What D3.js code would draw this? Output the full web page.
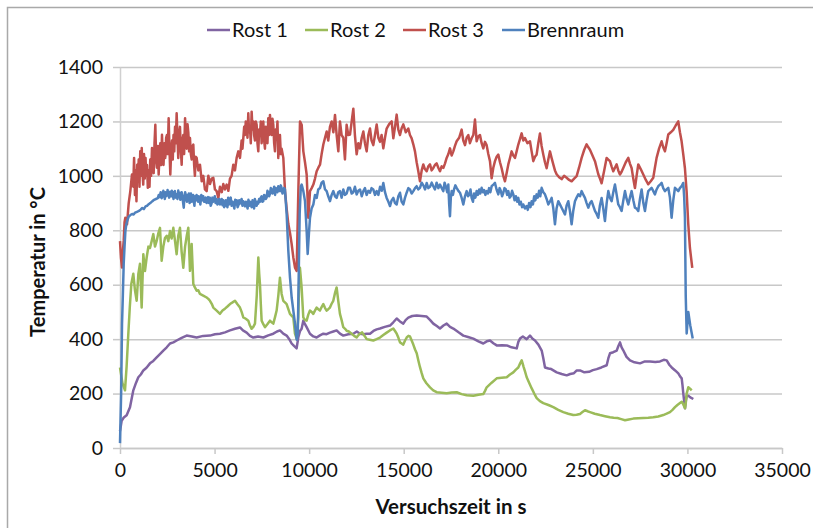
<!DOCTYPE html>
<html><head><meta charset="utf-8">
<script src="https://cdn.jsdelivr.net/npm/d3@7"></script>
<style>
html,body{margin:0;padding:0;background:#fff;}
svg{display:block;font-family:Lato,"Open Sans",sans-serif;}
</style></head><body>
<svg id="chart" width="813" height="528"></svg>
<script>
// Series names / colours (legend order = draw order)
const seriesNames = ["Rost 1", "Rost 2", "Rost 3", "Brennraum"];
const seriesColors = ["#8064A2", "#9BBB59", "#C0504D", "#4F81BD"];

// Axis ticks
const yTicks = [0, 200, 400, 600, 800, 1000, 1200, 1400];
const xTicks = [0, 5000, 10000, 15000, 20000, 25000, 30000, 35000];
const xTitle = "Versuchszeit in s";
const yTitle = "Temperatur in °C";

// Measurements: [time in s, temperature in °C]
const rost1 = [[0,62],[88,100],[200,112],[352,120],[528,150],[704,212],[850,240],[969,260],[1100,270],[1233,285],[1400,295],[1585,311],[1760,320],[1938,333],[2110,345],[2290,358],[2470,370],[2643,384],[2820,388],[2995,395],[3260,405],[3524,413],[3800,410],[4052,406],[4400,412],[4757,413],[5020,418],[5286,420],[5550,425],[5814,432],[6080,438],[6343,443],[6500,432],[6695,424],[6870,412],[7048,406],[7300,410],[7576,406],[7840,414],[8105,420],[8300,428],[8457,432],[8633,420],[8810,413],[8950,400],[9074,384],[9200,375],[9338,366],[9426,406],[9520,430],[9602,438],[9691,468],[9780,455],[9867,444],[10043,420],[10220,410],[10395,406],[10570,414],[10748,420],[10920,418],[11100,424],[11280,428],[11453,432],[11630,420],[11805,413],[12070,418],[12334,420],[12520,428],[12689,420],[12865,418],[13042,420],[13218,420],[13400,430],[13570,436],[13746,439],[14000,445],[14275,450],[14450,462],[14629,476],[14800,465],[14978,457],[15100,470],[15243,479],[15450,485],[15687,487],[15950,485],[16215,483],[16400,470],[16564,457],[16750,448],[16918,439],[17100,450],[17273,457],[17450,445],[17622,439],[17900,425],[18150,413],[18400,408],[18679,402],[18950,392],[19208,384],[19390,392],[19562,395],[19740,385],[19916,377],[20200,378],[20445,377],[20700,370],[20974,366],[21060,390],[21148,402],[21300,410],[21500,400],[21677,413],[21800,402],[21941,395],[22120,380],[22295,358],[22380,330],[22470,296],[22650,292],[22800,290],[23089,278],[23350,272],[23617,267],[23800,272],[24000,275],[24150,285],[24320,285],[24550,278],[24800,280],[25000,286],[25203,290],[25450,296],[25732,304],[25820,330],[25906,348],[26080,352],[26260,358],[26350,375],[26435,388],[26520,370],[26600,360],[26780,335],[26964,322],[27200,315],[27492,311],[27750,318],[28021,318],[28300,316],[28550,318],[28750,324],[28904,322],[29050,305],[29168,296],[29350,285],[29517,274],[29620,262],[29697,256],[29740,230],[29781,201],[29830,170],[29872,146],[29920,175],[29961,190],[30050,192],[30136,187],[30230,183],[30311,180]];

const rost2 = [[0,296],[130,238],[264,212],[350,300],[440,420],[520,520],[600,604],[704,640],[790,580],[881,541],[970,640],[1057,677],[1145,516],[1233,712],[1320,650],[1410,700],[1500,740],[1585,735],[1675,760],[1762,786],[1850,740],[1938,761],[2030,790],[2114,809],[2202,688],[2290,740],[2378,772],[2470,780],[2555,760],[2643,797],[2730,770],[2819,809],[2910,760],[2995,712],[3080,780],[3171,809],[3260,720],[3347,662],[3440,740],[3530,780],[3612,809],[3700,651],[3788,750],[3876,603],[3960,590],[4052,578],[4140,580],[4228,566],[4400,560],[4581,553],[4670,548],[4757,541],[4850,530],[4933,516],[5110,505],[5286,493],[5420,505],[5550,512],[5680,520],[5814,529],[5950,535],[6079,541],[6210,528],[6343,516],[6430,500],[6519,480],[6650,475],[6783,468],[6870,450],[6960,438],[7048,445],[7136,457],[7230,560],[7313,700],[7360,640],[7400,602],[7444,530],[7488,468],[7576,455],[7664,444],[7800,456],[7929,468],[8017,462],[8105,457],[8193,480],[8281,505],[8370,560],[8457,626],[8545,566],[8633,541],[8720,535],[8810,529],[8900,510],[8986,493],[9074,486],[9162,480],[9250,420],[9338,402],[9426,480],[9470,600],[9514,662],[9602,590],[9691,480],[9780,470],[9867,468],[9955,490],[10043,505],[10131,500],[10219,493],[10307,505],[10395,516],[10484,510],[10572,505],[10660,518],[10748,529],[10836,515],[10924,505],[11012,510],[11100,516],[11188,530],[11276,541],[11370,570],[11453,590],[11541,540],[11629,493],[11717,470],[11805,444],[11900,438],[11981,431],[12100,428],[12245,420],[12380,412],[12510,406],[12600,414],[12686,420],[12800,425],[12950,410],[13042,400],[13200,398],[13394,395],[13570,400],[13746,406],[13920,415],[14100,424],[14270,432],[14449,439],[14540,430],[14629,420],[14720,405],[14804,388],[14890,384],[14978,380],[15070,395],[15158,406],[15250,412],[15332,410],[15420,395],[15507,380],[15600,362],[15687,348],[15780,320],[15861,297],[15950,275],[16035,256],[16200,238],[16390,223],[16560,212],[16744,205],[17000,203],[17273,201],[17540,204],[17802,205],[18060,198],[18330,194],[18500,193],[18679,192],[18950,196],[19208,198],[19300,210],[19387,223],[19650,240],[19916,256],[20180,258],[20445,260],[20620,270],[20794,278],[20930,288],[21058,296],[21150,310],[21238,322],[21290,310],[21330,300],[21420,280],[21502,260],[21630,240],[21767,219],[21900,200],[22031,183],[22200,172],[22380,165],[22650,158],[22909,150],[23170,140],[23437,132],[23700,126],[23966,121],[24140,122],[24320,125],[24450,132],[24585,139],[24720,135],[24849,132],[25100,126],[25378,121],[25640,117],[25906,113],[26100,111],[26300,110],[26500,106],[26699,102],[26900,105],[27138,108],[27400,109],[27667,110],[27930,111],[28195,113],[28460,116],[28724,121],[28900,126],[29078,132],[29210,140],[29342,150],[29470,158],[29606,165],[29700,170],[29781,160],[29830,152],[29872,146],[29920,170],[29960,200],[30046,223],[30140,218],[30226,212]];

const rost3 = [[0,760],[50,700],[106,663],[150,720],[194,761],[240,830],[282,846],[330,835],[370,822],[460,900],[546,944],[634,1005],[700,960],[745,1066],[790,930],[830,1020],[870,907],[910,1041],[950,980],[990,1060],[1030,960],[1070,1090],[1110,1000],[1150,1102],[1190,1010],[1230,968],[1270,1080],[1310,990],[1350,1066],[1390,1000],[1430,1040],[1470,956],[1515,1020],[1560,960],[1600,1060],[1645,1000],[1691,1102],[1735,1030],[1780,1010],[1825,1120],[1868,1188],[1910,1060],[1950,1030],[2000,1110],[2044,1005],[2090,1080],[2130,1120],[2175,1040],[2220,1151],[2260,1070],[2300,1040],[2350,1120],[2396,1066],[2440,1140],[2480,1150],[2525,1080],[2572,1212],[2615,1100],[2660,1005],[2705,1090],[2750,1130],[2790,1060],[2830,1150],[2870,1090],[2910,1180],[2950,1120],[2995,1230],[3040,1140],[3080,1066],[3125,1150],[3171,1180],[3215,1100],[3260,1041],[3300,1130],[3347,1150],[3390,1080],[3440,1212],[3480,1140],[3524,1100],[3570,1190],[3612,1160],[3655,1090],[3700,1139],[3745,1080],[3790,1060],[3835,1110],[3876,1115],[3920,1040],[3960,1000],[4005,1070],[4052,1066],[4140,1020],[4228,1041],[4320,980],[4405,1000],[4490,950],[4581,944],[4670,1000],[4757,970],[4845,990],[4933,993],[5020,950],[5109,944],[5200,919],[5286,960],[5380,940],[5462,970],[5550,950],[5638,968],[5730,945],[5814,990],[5900,1000],[5990,1041],[6079,1020],[6167,1066],[6255,1090],[6343,1066],[6430,1130],[6475,1100],[6519,1139],[6565,1180],[6610,1150],[6650,1200],[6695,1188],[6740,1140],[6783,1230],[6825,1160],[6871,1180],[6915,1120],[6960,1236],[7005,1170],[7048,1200],[7090,1150],[7136,1130],[7180,1200],[7224,1188],[7268,1120],[7312,1090],[7356,1170],[7400,1150],[7444,1200],[7488,1120],[7532,1160],[7576,1200],[7620,1130],[7664,1100],[7708,1180],[7752,1163],[7796,1120],[7840,1212],[7884,1150],[7929,1224],[7973,1170],[8017,1150],[8060,1210],[8105,1188],[8150,1120],[8193,1090],[8237,1170],[8281,1139],[8325,1200],[8369,1066],[8413,1130],[8457,1150],[8500,1080],[8545,1100],[8635,1066],[8724,944],[8810,880],[8900,823],[8988,790],[9076,749],[9164,700],[9252,663],[9340,651],[9429,944],[9517,1200],[9605,1188],[9693,1090],[9781,1050],[9869,1005],[9957,846],[10045,944],[10133,955],[10222,968],[10310,990],[10398,1017],[10486,1030],[10574,1041],[10660,1080],[10750,1115],[10840,1140],[10926,1163],[11010,1130],[11100,1180],[11191,1200],[11280,1160],[11367,1224],[11455,1150],[11543,1090],[11629,1200],[11717,1150],[11805,1140],[11893,1060],[11981,1188],[12069,1150],[12160,1152],[12250,1200],[12336,1247],[12420,1150],[12512,1079],[12600,1120],[12689,1101],[12780,1140],[12865,1163],[12950,1120],[13041,1090],[13130,1150],[13217,1174],[13300,1130],[13393,1113],[13480,1150],[13570,1189],[13660,1140],[13746,1125],[13830,1150],[13922,1101],[14010,1140],[14098,1174],[14230,1190],[14363,1200],[14451,1138],[14540,1180],[14627,1225],[14715,1170],[14803,1150],[14890,1175],[14979,1189],[15110,1160],[15244,1174],[15330,1150],[15420,1138],[15510,1115],[15596,1090],[15684,1050],[15772,1017],[15860,980],[15950,1020],[16036,1042],[16120,1025],[16213,1017],[16300,1035],[16389,1042],[16477,1020],[16565,1029],[16650,1040],[16741,1046],[16830,1030],[16917,1017],[17005,1035],[17094,1029],[17180,1045],[17270,1066],[17360,1080],[17446,1101],[17534,1075],[17622,1090],[17710,1110],[17798,1127],[17930,1140],[18063,1170],[18150,1130],[18239,1113],[18327,1140],[18415,1150],[18500,1120],[18591,1138],[18680,1150],[18768,1207],[18856,1127],[18944,1145],[19032,1150],[19120,1120],[19208,1101],[19296,1125],[19384,1113],[19472,1080],[19560,1054],[19649,991],[19737,1030],[19825,1054],[19913,1070],[20001,1078],[20090,1050],[20177,1028],[20265,1000],[20353,980],[20440,1010],[20530,1042],[20618,1065],[20706,1090],[20794,1075],[20882,1066],[20970,1090],[21058,1115],[21146,1135],[21234,1156],[21322,1130],[21411,1139],[21540,1120],[21675,1127],[21763,1090],[21851,1054],[21940,1070],[22027,1078],[22115,1120],[22203,1156],[22290,1110],[22380,1078],[22468,1050],[22556,1028],[22644,1060],[22732,1090],[22820,1065],[22908,1042],[22996,1020],[23084,1006],[23216,995],[23349,988],[23480,1000],[23613,993],[23745,985],[23877,980],[24010,990],[24142,999],[24270,1030],[24406,1066],[24540,1095],[24670,1116],[24760,1105],[24847,1096],[24980,1075],[25111,1054],[25200,1030],[25287,1006],[25375,990],[25463,973],[25600,1020],[25727,1066],[25815,1060],[25904,1054],[25990,1035],[26080,1017],[26168,1030],[26256,1042],[26344,1020],[26432,1005],[26520,1015],[26608,1029],[26740,1050],[26873,1066],[26960,1045],[27049,1029],[27137,990],[27225,955],[27313,1000],[27401,1042],[27530,1025],[27666,1005],[27800,985],[27930,969],[28060,980],[28194,993],[28280,1030],[28370,1066],[28500,1100],[28635,1127],[28720,1105],[28811,1090],[28900,1120],[28987,1152],[29120,1160],[29251,1169],[29380,1185],[29516,1200],[29604,1160],[29692,1127],[29780,1079],[29868,1028],[29956,944],[30044,823],[30132,735],[30256,662]];

const brennraum = [[0,18],[60,200],[107,457],[150,560],[196,677],[240,740],[285,797],[330,820],[375,834],[460,850],[550,856],[642,860],[720,858],[800,865],[900,868],[1000,871],[1090,876],[1177,882],[1260,878],[1350,888],[1430,890],[1500,895],[1600,900],[1713,907],[1800,912],[1900,915],[2000,918],[2050,930],[2100,922],[2150,940],[2200,918],[2248,925],[2290,945],[2330,935],[2370,915],[2400,940],[2440,925],[2480,928],[2515,948],[2550,935],[2600,920],[2650,942],[2700,925],[2740,945],[2783,933],[2830,915],[2860,940],[2900,944],[2950,920],[3000,932],[3040,915],[3080,946],[3115,925],[3150,938],[3190,912],[3230,928],[3260,940],[3290,930],[3330,905],[3370,883],[3395,910],[3420,925],[3445,940],[3470,932],[3505,915],[3540,905],[3570,930],[3600,920],[3640,935],[3680,900],[3715,920],[3750,935],[3790,905],[3830,912],[3865,930],[3900,907],[3935,890],[3970,925],[4010,910],[4050,930],[4090,915],[4130,905],[4165,925],[4200,915],[4250,895],[4300,930],[4350,910],[4400,925],[4445,905],[4490,905],[4535,920],[4580,900],[4620,915],[4660,922],[4705,900],[4750,920],[4795,890],[4840,898],[4885,920],[4930,905],[4970,915],[5010,925],[5055,900],[5100,915],[5150,895],[5200,900],[5245,915],[5290,895],[5335,905],[5380,915],[5420,892],[5460,910],[5505,885],[5550,890],[5595,910],[5640,900],[5680,885],[5720,920],[5765,895],[5814,907],[5855,920],[5900,890],[5950,905],[6000,895],[6045,880],[6090,912],[6130,895],[6170,910],[6215,885],[6260,892],[6300,910],[6343,898],[6385,905],[6430,915],[6475,890],[6519,907],[6565,900],[6610,888],[6655,905],[6700,895],[6745,880],[6790,912],[6830,890],[6871,905],[6915,895],[6960,885],[7005,910],[7048,900],[7090,880],[7130,915],[7180,900],[7224,890],[7265,905],[7310,898],[7355,915],[7400,905],[7445,920],[7490,925],[7530,905],[7576,907],[7620,930],[7660,928],[7705,915],[7752,920],[7795,945],[7840,940],[7885,925],[7929,935],[7973,955],[8017,950],[8060,935],[8105,944],[8150,960],[8200,930],[8240,955],[8281,950],[8325,940],[8369,962],[8413,945],[8457,944],[8500,965],[8545,956],[8590,935],[8633,940],[8680,955],[8721,950],[8812,858],[8900,724],[8988,626],[9076,553],[9164,505],[9252,457],[9340,398],[9400,420],[9450,640],[9500,862],[9560,960],[9605,968],[9693,944],[9781,907],[9869,797],[9922,713],[9990,790],[10045,846],[10130,880],[10222,895],[10310,930],[10398,919],[10480,950],[10574,955],[10660,975],[10750,980],[10840,950],[10926,944],[11010,925],[11102,907],[11190,930],[11279,944],[11370,925],[11455,919],[11540,940],[11629,944],[11717,920],[11805,950],[11890,930],[11981,935],[12069,956],[12160,956],[12250,935],[12336,940],[12420,960],[12512,932],[12600,945],[12690,950],[12780,925],[12865,944],[12950,955],[13040,930],[13130,945],[13217,938],[13300,955],[13390,950],[13480,930],[13570,944],[13660,930],[13750,960],[13840,945],[13922,974],[14010,940],[14098,919],[14190,905],[14274,889],[14360,910],[14451,919],[14540,900],[14627,895],[14715,925],[14803,938],[14890,905],[14979,895],[15070,920],[15155,938],[15245,955],[15332,950],[15420,935],[15508,944],[15600,955],[15684,962],[15770,950],[15860,956],[15950,975],[16040,965],[16130,950],[16213,974],[16300,955],[16390,960],[16480,975],[16565,962],[16650,950],[16740,975],[16830,955],[16917,968],[17010,955],[17094,944],[17160,975],[17230,960],[17300,940],[17358,968],[17400,900],[17446,852],[17490,920],[17534,944],[17600,930],[17660,950],[17730,965],[17798,956],[17890,945],[17975,938],[18060,920],[18151,895],[18240,925],[18327,944],[18400,925],[18460,930],[18530,950],[18591,919],[18660,905],[18720,935],[18790,920],[18856,944],[18920,930],[18990,950],[19050,935],[19120,956],[19190,940],[19250,948],[19320,930],[19384,944],[19450,935],[19515,955],[19580,940],[19649,962],[19740,968],[19825,974],[19910,950],[20001,932],[20070,955],[20130,945],[20200,925],[20265,938],[20330,955],[20400,950],[20470,930],[20530,944],[20600,920],[20660,925],[20730,945],[20794,932],[20860,910],[20930,925],[21000,905],[21058,919],[21120,895],[21190,905],[21260,885],[21322,895],[21410,880],[21499,889],[21560,875],[21630,900],[21700,885],[21763,907],[21830,895],[21900,925],[21960,910],[22027,932],[22090,920],[22160,945],[22220,925],[22292,956],[22380,940],[22468,932],[22556,915],[22644,895],[22730,905],[22820,919],[22910,880],[22996,822],[23080,880],[23172,907],[23260,895],[23349,883],[23440,870],[23525,858],[23610,890],[23701,907],[23790,870],[23877,822],[23960,870],[24054,907],[24140,920],[24230,932],[24320,925],[24406,944],[24500,930],[24582,919],[24670,900],[24758,883],[24850,900],[24935,907],[25020,890],[25111,871],[25200,860],[25287,846],[25370,890],[25463,919],[25550,880],[25639,834],[25730,900],[25816,944],[25900,920],[25992,907],[26080,940],[26168,968],[26260,930],[26344,895],[26430,885],[26520,871],[26610,910],[26697,944],[26785,915],[26873,895],[26960,920],[27049,944],[27140,910],[27225,883],[27310,880],[27401,871],[27490,915],[27578,950],[27670,900],[27754,871],[27840,910],[27930,944],[28020,950],[28106,956],[28190,945],[28282,932],[28370,950],[28459,962],[28550,968],[28635,974],[28720,955],[28811,944],[28900,950],[28987,956],[29075,920],[29163,846],[29250,910],[29340,956],[29430,950],[29516,944],[29600,955],[29692,962],[29780,974],[29830,920],[29868,846],[29910,560],[29960,421],[30046,500],[30150,450],[30280,402]];

const seriesData = [rost1, rost2, rost3, brennraum];

// ---- layout ----
const W = 813, H = 528;
const plot = {left: 120, right: 782, top: 67, bottom: 448};
const svg = d3.select("#chart");

const x = d3.scaleLinear().domain([0, 35000]).range([plot.left, plot.right]);
const y = d3.scaleLinear().domain([0, 1400]).range([plot.bottom, plot.top]);

// outer chart frame (right and bottom edges lie outside the page)
svg.append("rect")
  .attr("x", 7.5).attr("y", 7.5)
  .attr("width", W + 20).attr("height", H + 20)
  .attr("fill", "none").attr("stroke", "#a9a9a9").attr("stroke-width", 1.5);

// horizontal gridlines
svg.append("g")
  .attr("transform", `translate(${plot.left},0)`)
  .call(d3.axisLeft(y).tickValues(yTicks).tickSize(-(plot.right - plot.left)).tickFormat(""))
  .call(g => g.select(".domain").remove())
  .call(g => g.selectAll("line").attr("stroke", "#c8c8c8").attr("stroke-width", 1.5));

const tickFont = 19.5;
const plainNumber = d3.format("d");

// y axis
svg.append("g")
  .attr("transform", `translate(${plot.left},0)`)
  .call(d3.axisLeft(y).tickValues(yTicks).tickFormat(plainNumber).tickSize(7).tickPadding(10).tickSizeOuter(0))
  .call(g => g.select(".domain").attr("stroke", "#d0d0d0").attr("stroke-width", 1.5))
  .call(g => g.selectAll(".tick line").attr("stroke", "#c8c8c8").attr("stroke-width", 1.5))
  .call(g => g.selectAll("text").attr("font-size", tickFont).attr("fill", "#111").attr("font-family", "Lato"));

// x axis
svg.append("g")
  .attr("transform", `translate(0,${plot.bottom})`)
  .call(d3.axisBottom(x).tickValues(xTicks).tickFormat(plainNumber).tickSize(6).tickPadding(9).tickSizeOuter(0))
  .call(g => g.select(".domain").attr("stroke", "#c8c8c8").attr("stroke-width", 1.5))
  .call(g => g.selectAll(".tick line").attr("stroke", "#c8c8c8").attr("stroke-width", 1.5))
  .call(g => g.selectAll("text").attr("font-size", tickFont).attr("fill", "#111").attr("font-family", "Lato"));

// series lines
const line = d3.line().x(d => x(d[0])).y(d => y(d[1]));
svg.append("g").selectAll("path")
  .data(seriesData)
  .join("path")
  .attr("d", line)
  .attr("fill", "none")
  .attr("stroke", (d, i) => seriesColors[i])
  .attr("stroke-width", 2.5)
  .attr("stroke-linejoin", "round");

// axis titles
svg.append("text")
  .attr("x", 451).attr("y", 507).attr("dy", "0.35em")
  .attr("text-anchor", "middle")
  .attr("font-size", 20.5).attr("font-weight", "bold").attr("fill", "#111")
  .text(xTitle);

svg.append("text")
  .attr("transform", "translate(38,262) rotate(-90)")
  .attr("dy", "0.35em")
  .attr("text-anchor", "middle")
  .attr("font-size", 20).attr("font-weight", "bold").attr("fill", "#111")
  .text(yTitle);

// legend
const legendX = [207, 305, 403, 502];
const legend = svg.append("g").selectAll("g")
  .data(seriesNames)
  .join("g")
  .attr("transform", (d, i) => `translate(${legendX[i]},30)`);
legend.append("line")
  .attr("x1", 0).attr("x2", 23).attr("y1", 0).attr("y2", 0)
  .attr("stroke", (d, i) => seriesColors[i]).attr("stroke-width", 2.5);
legend.append("text")
  .attr("x", 25).attr("dy", "0.35em")
  .attr("font-size", 20).attr("fill", "#111")
  .text(d => d);
</script>
</body></html>
